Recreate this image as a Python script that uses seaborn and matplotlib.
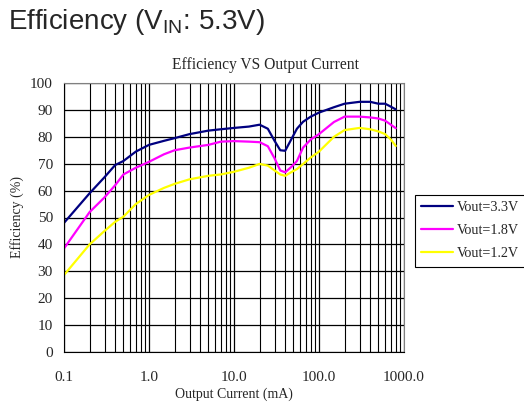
import numpy as np
import pandas as pd
import matplotlib
matplotlib.use("Agg")
import matplotlib.pyplot as plt
import seaborn as sns
from matplotlib.ticker import FixedLocator, NullFormatter

#%% data

current_ma = [0.1, 0.2, 0.3, 0.4, 0.5, 0.7, 1, 1.5, 2, 3, 5, 7, 10, 15, 20, 25, 30,
              35, 40, 48, 55, 65, 80, 100, 150, 200, 300, 400, 500, 600, 700, 800]
eff_3v3 = [48, 59, 65, 69.5, 71, 74.5, 77, 78.5, 79.5, 81, 82.3, 82.8, 83.3, 83.8,
           84.5, 83, 78.5, 75, 74.8, 79.5, 83, 85.6, 87.5, 89, 91, 92.3, 93, 93,
           92.3, 92.3, 91.2, 90.2]
eff_1v8 = [38.5, 52, 57.5, 62, 66, 68.5, 70.7, 73.5, 75, 76, 77, 78.2, 78.4, 78.2,
           78, 76.5, 72, 67.5, 66.8, 69, 71, 76, 79, 81, 85.5, 87.5, 87.5, 87.2,
           86.8, 86, 84.5, 83.2]
eff_1v2 = [28.6, 40, 45, 48.4, 50.3, 55, 58.4, 61, 62.5, 64.2, 65.5, 66, 67, 68.5,
           69.9, 69.3, 67.5, 66, 65.5, 67, 68, 69.9, 72.3, 74.5, 80, 82.5, 83.3,
           82.8, 82, 81, 79, 76.6]
labels = ['Vout=3.3V', 'Vout=1.8V', 'Vout=1.2V']
colors = ['#000080', '#FF00FF', '#FFFF00']

df = pd.DataFrame({
    'current': current_ma * 3,
    'eff': eff_3v3 + eff_1v8 + eff_1v2,
    'series': [labels[0]] * len(current_ma) + [labels[1]] * len(current_ma)
              + [labels[2]] * len(current_ma),
})

#%% plot

sns.set_style('white')
plt.rcParams['font.family'] = ['Liberation Serif', 'DejaVu Serif']

fig = plt.figure(figsize=(5.24, 4.09), dpi=100)
ax = fig.add_axes([64/524, 1-352/409, 340/524, 269/409])

sns.lineplot(data=df, x='current', y='eff', hue='series',
             palette=dict(zip(labels, colors)), linewidth=1.6,
             legend=False, ax=ax, sort=False)

ax.set_xscale('log')
ax.set_xlim(0.1, 1000)
ax.set_ylim(0, 100)

# grid: every 1..9 per decade, every 10 %
minor = [m * 10.0**d for d in range(-1, 3) for m in range(2, 10)]
ax.xaxis.set_minor_locator(FixedLocator(minor))
ax.xaxis.set_minor_formatter(NullFormatter())
ax.set_xticks([0.1, 1, 10, 100, 1000])
ax.set_xticklabels(['0.1', '1.0', '10.0', '100.0', '1000.0'])
ax.set_yticks(range(0, 101, 10))
ax.grid(True, which='major', color='black', linewidth=0.9)
ax.grid(True, which='minor', axis='x', color='black', linewidth=0.8)
ax.set_axisbelow(True)
ax.tick_params(axis='both', which='both', length=0, labelsize=11)
ax.tick_params(axis='x', pad=14)
ax.tick_params(axis='y', pad=8)

for s in ['left', 'bottom']:
    ax.spines[s].set_color('black')
for s in ['top', 'right']:
    ax.spines[s].set_color('#808080')

ax.set_xlabel('Output Current (mA)', fontsize=10, labelpad=2)
ax.set_ylabel('Efficiency (%)', fontsize=10, labelpad=4)

fig.text(266/524, 1-65/409, 'Efficiency VS Output Current', fontsize=11.2,
         ha='center', va='center')
fig.text(8/524, 1-29/409, r'Efficiency (V$_{\mathregular{IN}}$: 5.3V)',
         fontsize=20, ha='left', va='baseline',
         family=['Liberation Sans', 'DejaVu Sans'])

handles = [plt.Line2D([], [], color=c, linewidth=1.6) for c in colors]
leg = fig.legend(handles, labels, loc='upper left',
                 bbox_to_anchor=(415/524, 1-195/409), fontsize=10.2,
                 frameon=True, fancybox=False, framealpha=1, edgecolor='black',
                 borderaxespad=0, handlelength=2.2, labelspacing=0.7,
                 handletextpad=0.3, borderpad=0.45)
leg.get_frame().set_linewidth(0.8)

fig.savefig('out.png', dpi=100)
